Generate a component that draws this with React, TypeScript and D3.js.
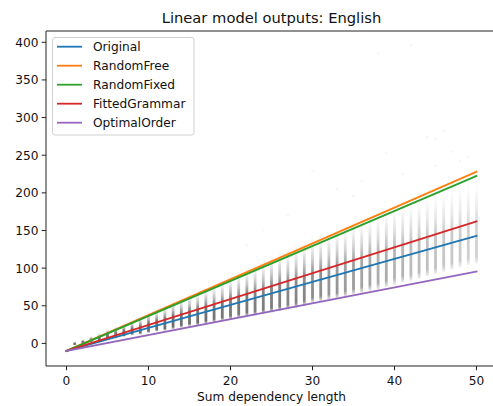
import React from "react";
import * as d3 from "d3";

const title = "Linear model outputs: English";
const xLabel = "Sum dependency length";
const xTicks = [0, 10, 20, 30, 40, 50];
const yTicks = [0, 50, 100, 150, 200, 250, 300, 350, 400];

const lineX = [0, 50];
const seriesNames = ["Original", "RandomFree", "RandomFixed", "FittedGrammar", "OptimalOrder"];
const seriesColors = ["#1f77b4", "#ff7f0e", "#2ca02c", "#d62728", "#9467bd"];
const original = [-10, 143];
const randomFree = [-10, 228];
const randomFixed = [-10, 222.5];
const fittedGrammar = [-10, 162];
const optimalOrder = [-10, 95.5];
const seriesValues = [original, randomFree, randomFixed, fittedGrammar, optimalOrder];

// scatter columns of observed sentences (Original), one per integer length
const colX = d3.range(1, 51);
const colLow = [-2, 0, 2, 4, 6, 7, 9, 11, 12, 14, 16, 17, 19, 21, 23, 24, 26, 28, 30, 32, 34, 36, 37, 39, 41, 43, 45, 47, 50, 54, 56, 58, 60, 62, 65, 67, 70, 72, 75, 78, 81, 83, 86, 89, 92, 95, 98, 101, 104, 106];
const colHigh = [3, 6, 10, 14, 19, 23, 27, 31, 36, 42, 46, 51, 57, 61, 66, 70, 75, 79, 84, 90, 95, 100, 105, 110, 118, 122, 126, 131, 136, 142, 146, 150, 154, 158, 163, 167, 171, 176, 180, 185, 188, 192, 196, 199, 203, 206, 209, 212, 215, 218];
const colStrength = [0.95, 0.95, 0.95, 0.95, 0.95, 0.95, 0.95, 0.95, 0.95, 0.95, 0.95, 0.95, 0.95, 0.95, 0.95, 0.95, 0.95, 0.9, 0.9, 0.9, 0.9, 0.9, 0.85, 0.85, 0.85, 0.85, 0.8, 0.8, 0.8, 0.75, 0.75, 0.7, 0.7, 0.65, 0.65, 0.6, 0.6, 0.55, 0.55, 0.5, 0.5, 0.45, 0.45, 0.42, 0.4, 0.38, 0.36, 0.34, 0.32, 0.3];
const outlierX = [42, 38, 46, 44, 45, 39, 48, 45, 30, 36, 33, 27, 24, 41, 47, 49, 35, 22];
const outlierY = [396, 385, 282, 274, 272, 253, 242, 236, 229, 215, 205, 170, 150, 225, 255, 248, 196, 130];

const W = 493;
const H = 406;
const font = "'DejaVu Sans', sans-serif";
const tickFont = 12.2;
const textColor = "#111";

export default function App() {
  const x = d3.scaleLinear().domain([-2.5, 52.5]).range([46, 497]);
  const y = d3.scaleLinear().domain([-30, 415]).range([366, 31]);
  const line = d3
    .line<number>()
    .x((_, i) => x(lineX[i]))
    .y((d) => y(d));

  return (
    <svg
      width={W}
      height={H}
      style={{ position: "absolute", left: 0, top: 0, background: "#fff" }}
      fontFamily={font}
    >
      <defs>
        <linearGradient id="colGrad" x1="0" y1="1" x2="0" y2="0">
          <stop offset="0" stopColor="#555" stopOpacity={0.2} />
          <stop offset="0.08" stopColor="#555" stopOpacity={0.9} />
          <stop offset="0.45" stopColor="#555" stopOpacity={0.85} />
          <stop offset="0.65" stopColor="#555" stopOpacity={0.4} />
          <stop offset="0.85" stopColor="#555" stopOpacity={0.1} />
          <stop offset="1" stopColor="#555" stopOpacity={0.02} />
        </linearGradient>
        <clipPath id="plotClip">
          <rect x={46} y={31} width={451} height={335} />
        </clipPath>
      </defs>
      <rect x={0} y={0} width={W} height={H} fill="#fff" />
      <g clipPath="url(#plotClip)">
        {colX.map((cx, i) => (
          <rect
            key={"c" + cx}
            x={x(cx) - 1.4}
            width={2.8}
            y={y(colHigh[i])}
            height={Math.max(1.5, y(colLow[i]) - y(colHigh[i]))}
            fill="url(#colGrad)"
            fillOpacity={colStrength[i]}
          />
        ))}
        {outlierX.map((ox, i) => (
          <circle key={"o" + i} cx={x(ox)} cy={y(outlierY[i])} r={1.3} fill="#888" fillOpacity={0.08} />
        ))}
        {seriesValues.map((vals, i) => (
          <path
            key={seriesNames[i]}
            d={line(vals) || ""}
            fill="none"
            stroke={seriesColors[i]}
            strokeWidth={1.8}
            strokeLinecap="square"
          />
        ))}
      </g>
      {/* spines */}
      <g stroke="#222" strokeWidth={1} fill="none">
        <line x1={46} y1={31} x2={46} y2={366} />
        <line x1={46} y1={366} x2={497} y2={366} />
        <line x1={46} y1={31} x2={497} y2={31} />
        <line x1={497} y1={31} x2={497} y2={366} />
      </g>
      {/* y ticks */}
      {yTicks.map((t) => (
        <g key={"y" + t}>
          <line x1={41.7} x2={46} y1={y(t)} y2={y(t)} stroke="#222" strokeWidth={1} />
          <text x={38.5} y={y(t) + 4.4} textAnchor="end" fontSize={tickFont} fill={textColor}>
            {t}
          </text>
        </g>
      ))}
      {/* x ticks */}
      {xTicks.map((t) => (
        <g key={"x" + t}>
          <line x1={x(t)} x2={x(t)} y1={366} y2={370.3} stroke="#222" strokeWidth={1} />
          <text x={x(t)} y={385} textAnchor="middle" fontSize={tickFont} fill={textColor}>
            {t}
          </text>
        </g>
      ))}
      <text x={271.5} y={400.5} textAnchor="middle" fontSize={tickFont} fill={textColor}>
        {xLabel}
      </text>
      <text x={271.5} y={22.7} textAnchor="middle" fontSize={14.7} fill={textColor}>
        {title}
      </text>
      {/* legend */}
      <g>
        <rect x={52.5} y={37.5} width={141.5} height={97.5} rx={2.5} fill="#fff" fillOpacity={0.8} stroke="#d0d0d0" strokeWidth={1} />
        {seriesNames.map((name, i) => {
          const ry = 46.7 + i * 19;
          return (
            <g key={"l" + name}>
              <line x1={57} x2={82} y1={ry} y2={ry} stroke={seriesColors[i]} strokeWidth={1.8} />
              <text x={93} y={ry + 4.4} fontSize={tickFont} fill={textColor}>
                {name}
              </text>
            </g>
          );
        })}
      </g>
    </svg>
  );
}
